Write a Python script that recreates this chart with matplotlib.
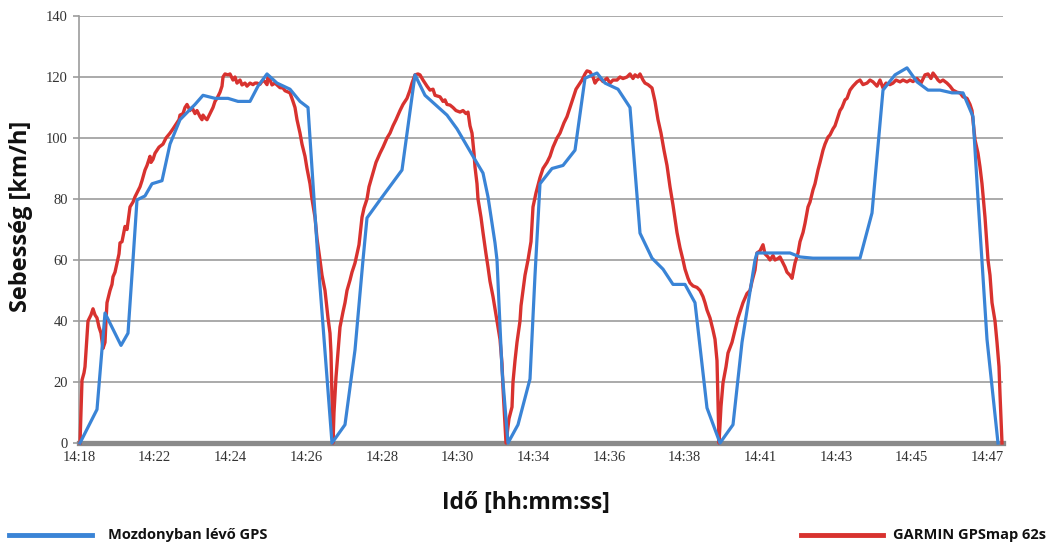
import matplotlib
matplotlib.use("Agg")
import matplotlib.pyplot as plt

# Time axis: sample index (one category tick every 75.7 samples)
tick_labels = ["14:18", "14:22", "14:24", "14:26", "14:28", "14:30", "14:34",
               "14:36", "14:38", "14:41", "14:43", "14:45", "14:47"]
tick_step = 75.7
x_max = 924

# Mozdonyban lévő GPS (blue)
loco_t = [1, 18, 26, 42, 49, 54, 58, 66, 73, 83, 91, 101, 116, 124, 136, 149, 159, 171,
          179, 188, 198, 211, 221, 229, 239, 253, 266, 276, 281, 284, 288, 301, 323, 336,
          346, 368, 378, 394, 404, 409, 416, 418, 423, 429, 439, 451, 456, 461, 473, 484,
          496, 506, 518, 526, 539, 551, 561, 573, 584, 594, 606, 616, 628, 641, 654, 663,
          676, 678, 711, 721, 734, 781, 793, 804, 816, 828, 838, 849, 861, 873, 884, 894,
          899, 908, 919]
loco_v = [0, 11, 42.6, 32, 36, 60, 79.7, 81, 85, 86, 98, 106, 111, 114, 113, 113, 112, 112,
          117, 121, 118, 116, 112, 110, 60, 0, 6, 30.5, 49, 60, 73.8, 79.7, 89.5, 120.7,
          114, 107.5, 103, 94, 88.5, 80.7, 65.6, 60, 24, 0, 6, 21, 55, 85, 90, 91,
          96, 119.6, 121.3, 118, 116, 110, 68.8, 60.6, 57, 52, 52, 46, 11.5, 0, 6, 33,
          60, 62.3, 62.3, 61, 60.6, 60.6, 75.4, 115.7, 120.7, 123, 118.4, 115.7, 115.7, 114.8, 114.8, 107,
          80, 34, 0]

# GARMIN GPSmap 62s (red)
garmin_t = [1, 3, 5, 6, 9, 12, 14, 16, 18, 20, 22, 24, 26, 27, 28, 31, 33, 34, 36, 38, 40, 41,
            43, 46, 48, 51, 54, 56, 58, 61, 63, 66, 68, 71, 72, 74, 76, 78, 80, 84, 87, 91,
            94, 98, 100, 101, 104, 106, 108, 111, 113, 116, 118, 121, 123, 124, 126, 128,
            131, 134, 136, 138, 141, 143, 144, 146, 149, 151, 154, 156, 158, 161, 163, 166,
            168, 171, 174, 176, 178, 181, 184, 186, 188, 189, 191, 193, 196, 198, 201, 204,
            206, 211, 214, 216, 218, 221, 223, 226, 228, 231, 233, 236, 238, 241, 243, 246,
            248, 249, 251, 252, 254, 255, 257, 259, 261, 264, 266, 268, 271, 273, 276, 280,
            283, 285, 288, 290, 294, 297, 301, 304, 308, 311, 314, 317, 321, 324, 328, 331,
            333, 336, 339, 341, 344, 348, 351, 354, 356, 361, 364, 366, 368, 371, 374, 377,
            381, 384, 387, 389, 391, 393, 395, 396, 398, 399, 402, 404, 407, 409, 411, 414,
            417, 421, 423, 424, 427, 430, 433, 434, 436, 438, 441, 442, 444, 446, 449, 452,
            454, 457, 461, 464, 468, 471, 474, 478, 481, 485, 488, 491, 494, 497, 499, 503,
            506, 508, 511, 514, 516, 518, 521, 524, 528, 531, 534, 538, 541, 544, 548, 551,
            554, 556, 559, 561, 564, 566, 569, 573, 576, 579, 582, 585, 588, 591, 594, 598,
            601, 604, 606, 609, 611, 614, 618, 621, 624, 626, 628, 631, 634, 636, 638, 640,
            642, 644, 647, 649, 653, 656, 659, 662, 664, 668, 671, 673, 676, 678, 681, 684,
            686, 689, 691, 694, 696, 699, 701, 704, 706, 708, 711, 713, 714, 716, 719, 721,
            724, 726, 729, 731, 734, 736, 739, 741, 744, 746, 749, 751, 754, 756, 758, 761,
            763, 766, 768, 771, 774, 778, 781, 784, 788, 791, 794, 798, 801, 804, 807, 811,
            814, 817, 821, 824, 828, 831, 834, 838, 842, 846, 849, 852, 854, 857, 859, 861,
            864, 868, 871, 874, 878, 881, 884, 888, 891, 893, 896, 899, 901, 903, 906, 909,
            911, 913, 916, 918, 920, 921, 923]
garmin_v = [0, 20.6, 23, 25, 40, 42, 44, 42, 41, 38, 36, 31, 33, 40, 46, 50, 52, 54.5, 56, 59, 62, 65.6,
            66, 71, 70, 77.4, 79, 80.7, 82, 84, 86, 89.5, 91, 94, 92, 93, 95, 96, 97, 98, 100, 101.6,
            103, 105, 106, 107.5, 108, 110, 111, 109, 110, 108, 109, 107, 106, 107.5, 106.6, 106,
            108, 110, 112, 113, 115, 117, 120, 121, 120.7, 121, 119, 120, 118, 119, 117.4, 118,
            117, 118, 117.5, 118, 118, 117.6, 119, 118.4, 117.5, 120, 119, 117.4, 118, 117.4, 116.5, 116.4,
            115.5, 114.8, 112, 110, 106, 101.6, 98, 94, 90, 85, 80, 74, 67, 60, 55, 50,
            44, 41, 36, 29.5, 0, 10, 21.6, 30, 38, 43, 46, 50, 53.4, 56, 59, 65,
            74, 77, 80, 84, 88.5, 92, 95, 97, 100, 101.6, 104, 106, 109, 111, 113, 115.7,
            118, 120.7, 121, 120.7, 119, 117, 115.7, 116, 114, 113.5, 112, 112.5, 111, 110.8, 110, 109,
            108.5, 109, 108, 108.5, 104, 101.6, 95, 90.5, 85, 80, 74, 69, 62, 57.7, 53, 48,
            42, 34, 26, 18, 0, 8, 11.8, 20, 27, 33, 40, 45, 50, 55, 60, 66,
            77.4, 82, 87, 90, 92, 94, 97, 100, 101.6, 105, 107, 110, 113, 116, 117, 119,
            121, 122, 121.7, 120, 118, 119, 119.6, 118.5, 119.6, 118, 119, 119, 120, 119.5, 120, 121,
            119.5, 120.7, 120, 121, 119, 118, 117.5, 116.4, 112, 106, 101.6, 96, 91, 84, 78, 69,
            64, 60, 57, 54, 52.5, 51.5, 51, 50, 48, 46, 43.6, 41, 37, 34, 27, 0,
            12, 19.7, 25, 29.5, 33, 37, 41, 44, 46, 49, 50, 53, 56.7, 62.3, 63, 65,
            62, 61, 60, 61.5, 60, 60.5, 61, 59, 57.7, 56, 55, 54, 55.7, 59, 62.3, 66,
            69, 72, 77.4, 79, 83, 85, 89.5, 92, 96, 98, 100.3, 101, 103, 104, 106, 109,
            110, 112.5, 113, 115.7, 117, 118.4, 119, 117.5, 118, 119, 118.4, 117, 119, 116.4, 118, 117.5,
            118, 119, 118.4, 119, 118.4, 119, 118.5, 119.5, 118, 120.7, 121, 119.5, 121.3, 120, 119, 118.4,
            119, 118, 117, 115.7, 115, 114.8, 113.5, 113, 111, 109, 99.4, 95, 90.5, 85, 74, 60,
            55, 46, 40, 33, 25, 16, 0]

y_ticks = [0, 20, 40, 60, 80, 100, 120, 140]

blue = "#3a84d6"
red = "#d8322f"
grid_c = "#9c9c9c"
label_font = "Open Sans"

fig = plt.figure(figsize=(10.49, 5.42), dpi=100)
ax = fig.add_axes([79 / 1049, 1 - 443 / 542, (1003 - 79) / 1049, (443 - 16) / 542])

ax.plot(garmin_t, garmin_v, color=red, lw=2.4, solid_joinstyle="round", zorder=3, clip_on=False)
ax.plot(loco_t, loco_v, color=blue, lw=2.3, solid_joinstyle="round", zorder=4, clip_on=False)

ax.set_xlim(0, x_max)
ax.set_ylim(0, 140)
ax.set_yticks(y_ticks)
ax.set_xticks([i * tick_step for i in range(len(tick_labels))])
ax.set_xticklabels(tick_labels)
ax.yaxis.grid(True, color=grid_c, lw=1.2)
ax.set_axisbelow(True)

for s in ["top", "right"]:
    ax.spines[s].set_visible(False)
ax.spines["left"].set_color(grid_c)
ax.spines["left"].set_linewidth(1.2)
ax.spines["bottom"].set_color("#8a8a8a")
ax.spines["bottom"].set_linewidth(3.8)
ax.spines["bottom"].set_zorder(2)

ax.tick_params(axis="y", length=4, width=1.2, color=grid_c, pad=4,
               labelsize=10.5, labelcolor="#333333")
ax.tick_params(axis="x", length=0, pad=6, labelsize=10.5, labelcolor="#333333")
for lab in ax.get_xticklabels() + ax.get_yticklabels():
    lab.set_fontfamily("Liberation Serif")

fig.text(21 / 1049, 1 - 216 / 542, "Sebesség [km/h]", rotation=90, ha="center", va="center",
         fontfamily=label_font, fontweight="bold", fontsize=17, color="#111111")

fig.text(526 / 1049, 1 - 503 / 542, "Idő [hh:mm:ss]", ha="center", va="center",
         fontfamily=label_font, fontweight="bold", fontsize=16.5, color="#111111")

# Legend
fig.add_artist(plt.Line2D([9 / 1049, 92 / 1049], [1 - 535 / 542] * 2,
                          color=blue, lw=3.5, transform=fig.transFigure))
fig.text(108 / 1049, 1 - 535 / 542, "Mozdonyban lévő GPS", ha="left", va="center",
         fontfamily=label_font, fontweight="bold", fontsize=10.5, color="#111111")
fig.add_artist(plt.Line2D([801 / 1049, 883 / 1049], [1 - 535 / 542] * 2,
                          color=red, lw=3.5, transform=fig.transFigure))
fig.text(893 / 1049, 1 - 535 / 542, "GARMIN GPSmap 62s", ha="left", va="center",
         fontfamily=label_font, fontweight="bold", fontsize=10.5, color="#111111")

fig.savefig("out.png", dpi=100)
